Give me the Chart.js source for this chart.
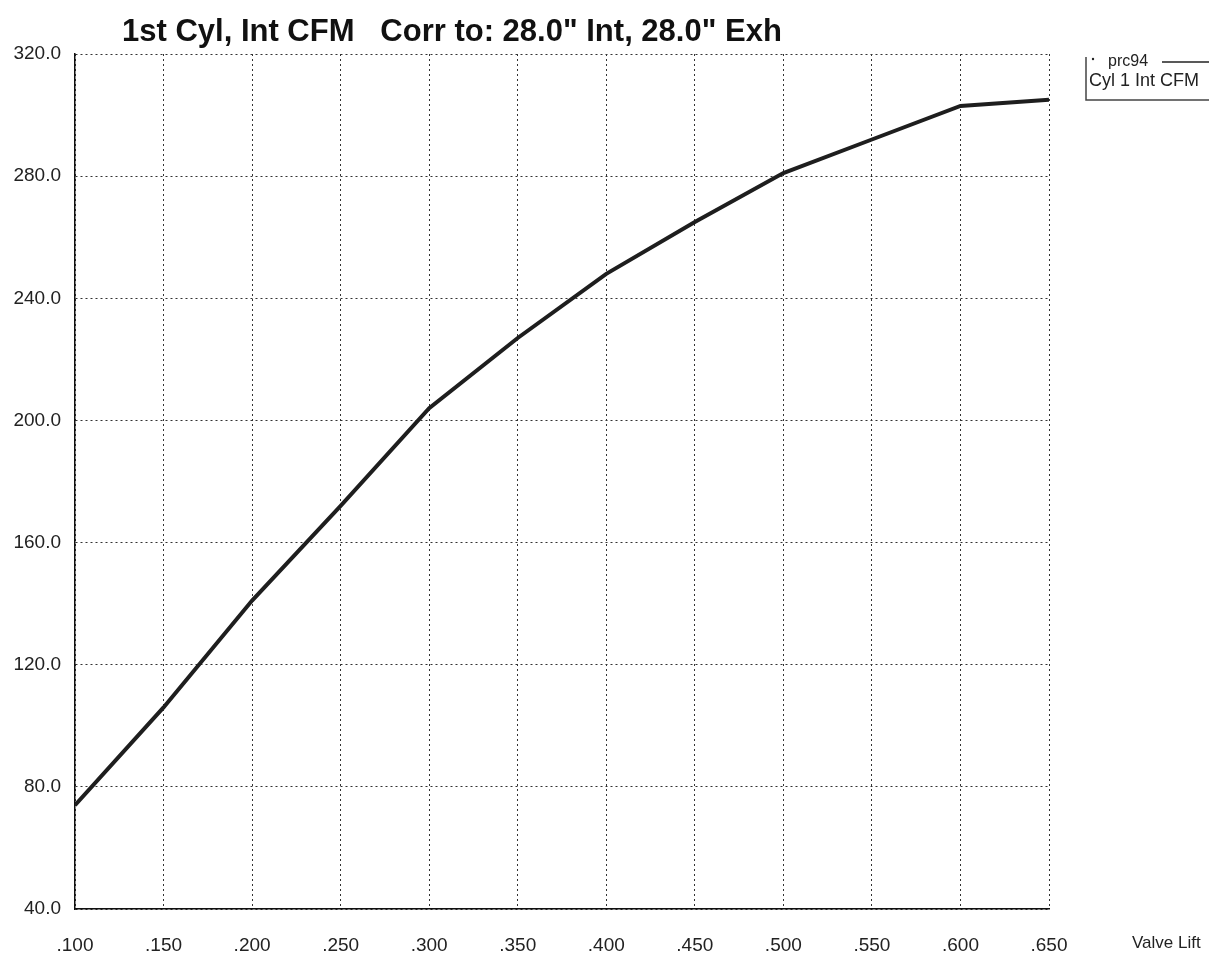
<!DOCTYPE html>
<html>
<head>
<meta charset="utf-8">
<script src="https://cdn.jsdelivr.net/npm/chart.js@4.4.1/dist/chart.umd.min.js"></script>
<style>
  html, body { margin: 0; padding: 0; background: #fff; }
  #wrap { width: 1209px; height: 954px; }
</style>
</head>
<body>
<div id="wrap"><canvas id="flow"></canvas></div>
<script>
// valve lift (in) vs intake flow (cfm)
const lift = [0.100, 0.150, 0.200, 0.250, 0.300, 0.350, 0.400, 0.450, 0.500, 0.550, 0.600, 0.650];
const cfm = [74, 106, 141, 172, 204, 227, 248, 265, 281, 292, 303, 305];
const yTicks = [40, 80, 120, 160, 200, 240, 280, 320];
const xTicks = [0.100, 0.150, 0.200, 0.250, 0.300, 0.350, 0.400, 0.450, 0.500, 0.550, 0.600, 0.650];

const chartTitle = '1st Cyl, Int CFM   Corr to: 28.0" Int, 28.0" Exh';
const legendHead = 'prc94';
const seriesName = 'Cyl 1 Int CFM';
const xAxisName = 'Valve Lift';

const FONT = '"Liberation Sans", Arial, sans-serif';

// title, legend box and axis name are drawn by hand, like the old printout
const sheetText = {
  id: 'sheetText',
  afterDraw(chart) {
    const ctx = chart.ctx;
    ctx.save();
    ctx.fillStyle = '#111';
    ctx.textBaseline = 'alphabetic';
    ctx.font = 'bold 31px ' + FONT;
    ctx.fillText(chartTitle, 122, 41);

    // legend box (only left and bottom edge show on the sheet)
    ctx.strokeStyle = '#444';
    ctx.lineWidth = 1.5;
    ctx.beginPath();
    ctx.moveTo(1086, 57);
    ctx.lineTo(1086, 100);
    ctx.lineTo(1209, 100);
    ctx.stroke();

    ctx.fillStyle = '#222';
    ctx.beginPath();
    ctx.arc(1093, 59, 1.2, 0, Math.PI * 2);
    ctx.fill();

    ctx.textBaseline = 'middle';
    ctx.font = '16px ' + FONT;
    ctx.fillText(legendHead, 1108, 62);
    ctx.strokeStyle = '#222';
    ctx.lineWidth = 1.5;
    ctx.beginPath();
    ctx.moveTo(1162, 62);
    ctx.lineTo(1209, 62);
    ctx.stroke();
    ctx.font = '18px ' + FONT;
    ctx.fillText(seriesName, 1089, 81);

    ctx.font = '17px ' + FONT;
    ctx.fillText(xAxisName, 1132, 943);
    ctx.restore();
  }
};

new Chart(document.getElementById('flow'), {
  type: 'line',
  data: {
    datasets: [{
      label: seriesName,
      data: lift.map((x, i) => ({ x: x, y: cfm[i] })),
      borderColor: '#1e1e1e',
      borderWidth: 4,
      pointRadius: 0,
      tension: 0,
      fill: false
    }]
  },
  options: {
    responsive: true,
    maintainAspectRatio: false,
    animation: false,
    layout: { padding: { top: 54, right: 160, left: 0, bottom: 0 } },
    plugins: {
      legend: { display: false },
      title: { display: false },
      tooltip: { enabled: false }
    },
    scales: {
      x: {
        type: 'linear',
        min: 0.1,
        max: 0.65,
        afterBuildTicks: (s) => { s.ticks = xTicks.map(v => ({ value: v })); },
        afterFit: (s) => { s.height = 45; },
        ticks: {
          color: '#222',
          font: { family: FONT, size: 19 },
          padding: 25,
          maxRotation: 0,
          autoSkip: false,
          callback: (v) => Number(v).toFixed(3).replace(/^0/, '')
        },
        grid: { color: '#333', lineWidth: 1, drawTicks: false },
        border: { display: true, color: '#111', width: 1.5, dash: [2, 3] }
      },
      y: {
        min: 40,
        max: 320,
        afterBuildTicks: (s) => { s.ticks = yTicks.map(v => ({ value: v })); },
        afterFit: (s) => { s.width = 75; },
        ticks: {
          color: '#222',
          font: { family: FONT, size: 19 },
          padding: 14,
          callback: (v) => Number(v).toFixed(1)
        },
        grid: { color: '#333', lineWidth: 1, drawTicks: false },
        border: { display: true, color: '#111', width: 1.5, dash: [2, 3] }
      }
    }
  },
  plugins: [sheetText]
});
</script>
</body>
</html>
